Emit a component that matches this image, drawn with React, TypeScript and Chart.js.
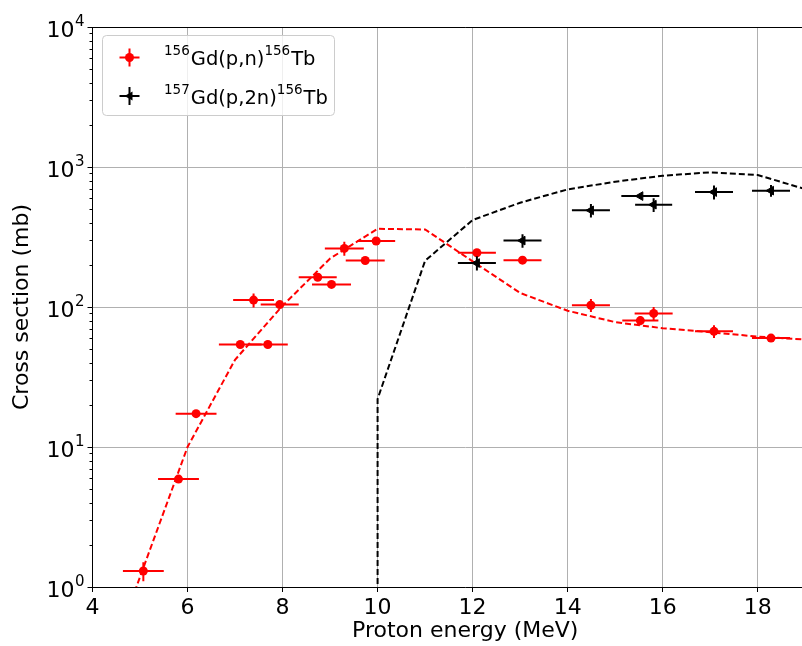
import React, { useEffect, useRef } from 'react';
import { Chart, registerables } from 'chart.js';

Chart.register(...registerables);

// 156Gd(p,n)156Tb measured
const pnEnergy = [5.07, 5.81, 6.18, 7.11, 7.69, 7.39, 7.94, 8.74, 9.03, 9.30, 9.74, 9.97, 12.09, 13.05, 14.49, 15.53, 15.81, 17.08, 18.28];
const pnEnergyErr = [0.43, 0.43, 0.43, 0.45, 0.42, 0.43, 0.40, 0.40, 0.41, 0.41, 0.41, 0.40, 0.40, 0.40, 0.40, 0.38, 0.40, 0.40, 0.40];
const pnXs = [1.3, 5.9, 17.3, 54, 54, 112, 104, 163, 145, 262, 215, 296, 244, 216, 103, 80, 90, 67, 60];
const pnXsErr = [0.2, 0.3, 1.0, 3, 3, 13, 5, 8, 6, 30, 8, 12, 12, 12, 11, 6, 10, 7, 3];

// 157Gd(p,2n)156Tb measured
const p2nEnergy = [12.09, 13.05, 14.49, 15.53, 15.81, 17.08, 18.28];
const p2nEnergyErr = [0.40, 0.40, 0.40, 0.40, 0.39, 0.40, 0.40];
const p2nXs = [206, 298, 490, 620, 538, 662, 678];
const p2nXsErr = [24, 33, 55, 20, 60, 75, 65];

// calculated excitation functions (dashed)
const pnCalcEnergy = [4.5, 5, 6, 7, 8, 9, 10, 11, 12, 13, 14, 15, 16, 17, 18, 19];
const pnCalcXs = [0.4, 1.18, 10, 42, 102, 222, 362, 358, 212, 126, 94, 78, 70.5, 66, 61.5, 58.5];
const p2nCalcEnergy = [10, 10, 11, 12, 13, 14, 15, 16, 17, 18, 19];
const p2nCalcXs = [0.001, 22, 214, 418, 556, 692, 785, 866, 916, 877, 695];

// axes
const xTicks = [4, 6, 8, 10, 12, 14, 16, 18];
const yMajorTicks = [1, 10, 100, 1000, 10000];
const yExponents = ['0', '1', '2', '3', '4'];
const yMinorFactors = [2, 3, 4, 5, 6, 7, 8, 9];
const xTitle = 'Proton energy (MeV)';
const yTitle = 'Cross section (mb)';

// legend texts: [superscript, main, superscript, main]
const legendEntries = [
  ['156', 'Gd(p,n)', '156', 'Tb'],
  ['157', 'Gd(p,2n)', '156', 'Tb'],
];

const FONT = 'DejaVu Sans';
const RED = '#ff0000';
const BLACK = '#000000';

function drawRich(ctx: CanvasRenderingContext2D, x: number, baseline: number, parts: string[], mainSize: number, supSize: number, rise: number) {
  let cx = x;
  parts.forEach((t, i) => {
    const sup = i % 2 === 0;
    ctx.font = `${sup ? supSize : mainSize}px "${FONT}"`;
    ctx.textAlign = 'left';
    ctx.textBaseline = 'alphabetic';
    ctx.fillText(t, cx, sup ? baseline - rise : baseline);
    cx += ctx.measureText(t).width + (sup ? 1 : 0);
  });
}

const errorBarPlugin = {
  id: 'errorBars',
  beforeDatasetDraw(chart: any, args: any) {
    const ds = chart.data.datasets[args.index];
    if (!ds.errX) return;
    const { ctx, chartArea } = chart;
    const xs = chart.scales.x;
    const ys = chart.scales.y;
    ctx.save();
    ctx.beginPath();
    ctx.rect(chartArea.left, chartArea.top, chartArea.right - chartArea.left, chartArea.bottom - chartArea.top);
    ctx.clip();
    ctx.strokeStyle = ds.errColor;
    ctx.lineWidth = 2;
    ds.data.forEach((p: any, i: number) => {
      const px = xs.getPixelForValue(p.x);
      const py = ys.getPixelForValue(p.y);
      const x0 = xs.getPixelForValue(p.x - ds.errX[i]);
      const x1 = xs.getPixelForValue(p.x + ds.errX[i]);
      const y0 = ys.getPixelForValue(p.y - ds.errY[i]);
      const y1 = ys.getPixelForValue(p.y + ds.errY[i]);
      ctx.beginPath();
      ctx.moveTo(x0, py);
      ctx.lineTo(x1, py);
      ctx.moveTo(px, y0);
      ctx.lineTo(px, y1);
      ctx.stroke();
    });
    ctx.restore();
  },
};

const decorPlugin = {
  id: 'decor',
  afterDraw(chart: any) {
    const { ctx, chartArea } = chart;
    const ys = chart.scales.y;
    ctx.save();
    // top spine
    ctx.strokeStyle = BLACK;
    ctx.lineWidth = 1;
    ctx.beginPath();
    ctx.moveTo(chartArea.left, chartArea.top + 0.5);
    ctx.lineTo(chartArea.right, chartArea.top + 0.5);
    ctx.stroke();
    // y tick marks
    const ax = Math.round(chartArea.left) - 0.5;
    yMajorTicks.forEach((v, i) => {
      const py = Math.round(ys.getPixelForValue(v)) + 0.5;
      ctx.beginPath();
      ctx.moveTo(ax, py);
      ctx.lineTo(ax - 5, py);
      ctx.stroke();
      if (i < yMajorTicks.length - 1) {
        yMinorFactors.forEach((f) => {
          const my = Math.round(ys.getPixelForValue(v * f)) + 0.5;
          ctx.beginPath();
          ctx.moveTo(ax, my);
          ctx.lineTo(ax - 3, my);
          ctx.stroke();
        });
      }
      // label 10^n
      ctx.fillStyle = BLACK;
      ctx.textBaseline = 'alphabetic';
      ctx.font = `15px "${FONT}"`;
      const ew = ctx.measureText(yExponents[i]).width;
      ctx.textAlign = 'right';
      const right = ax - 8;
      ctx.fillText(yExponents[i], right, py - 1.5);
      ctx.font = `22px "${FONT}"`;
      ctx.fillText('10', right - ew - 0.5, py + 9);
    });
    // legend
    const lx = 102.5, ly = 35.5, lw = 232, lh = 80;
    ctx.beginPath();
    ctx.roundRect(lx, ly, lw, lh, 4);
    ctx.fillStyle = 'rgba(255,255,255,0.8)';
    ctx.fill();
    ctx.strokeStyle = '#cccccc';
    ctx.lineWidth = 1;
    ctx.stroke();
    const rows = [57.5, 96];
    const colors = [RED, BLACK];
    rows.forEach((ry, i) => {
      const mx = 129.5;
      ctx.strokeStyle = colors[i];
      ctx.fillStyle = colors[i];
      ctx.lineWidth = 2;
      ctx.beginPath();
      ctx.moveTo(mx - 10, ry);
      ctx.lineTo(mx + 10, ry);
      ctx.moveTo(mx, ry - 9);
      ctx.lineTo(mx, ry + 9);
      ctx.stroke();
      ctx.beginPath();
      if (i === 0) {
        ctx.arc(mx, ry, 4.5, 0, Math.PI * 2);
      } else {
        ctx.moveTo(mx - 5, ry);
        ctx.lineTo(mx + 3, ry - 4.5);
        ctx.lineTo(mx + 3, ry + 4.5);
        ctx.closePath();
      }
      ctx.fill();
      ctx.fillStyle = BLACK;
      drawRich(ctx, 164, ry + 7.5, legendEntries[i], 19.5, 13.5, 10);
    });
    ctx.restore();
  },
};

export default function App() {
  const ref = useRef<HTMLCanvasElement | null>(null);
  useEffect(() => {
    if (!ref.current) return;
    const chart = new Chart(ref.current, {
      type: 'scatter',
      data: {
        datasets: [
          {
            label: 'pn',
            data: pnEnergy.map((e, i) => ({ x: e, y: pnXs[i] })),
            showLine: false,
            pointRadius: 4.5,
            pointBackgroundColor: RED,
            pointBorderColor: RED,
            pointBorderWidth: 0,
            errX: pnEnergyErr,
            errY: pnXsErr,
            errColor: RED,
            order: 1,
          } as any,
          {
            label: 'p2n',
            data: p2nEnergy.map((e, i) => ({ x: e, y: p2nXs[i] })),
            showLine: false,
            pointStyle: 'triangle',
            rotation: -90,
            pointRadius: 5,
            pointBackgroundColor: BLACK,
            pointBorderColor: BLACK,
            pointBorderWidth: 1,
            errX: p2nEnergyErr,
            errY: p2nXsErr,
            errColor: BLACK,
            order: 0,
          } as any,
          {
            label: 'pn calc',
            data: pnCalcEnergy.map((e, i) => ({ x: e, y: pnCalcXs[i] })),
            showLine: true,
            pointRadius: 0,
            borderColor: RED,
            borderWidth: 2,
            borderDash: [6, 3],
            tension: 0,
            order: 3,
          },
          {
            label: 'p2n calc',
            data: p2nCalcEnergy.map((e, i) => ({ x: e, y: p2nCalcXs[i] })),
            showLine: true,
            pointRadius: 0,
            borderColor: BLACK,
            borderWidth: 2,
            borderDash: [6, 3],
            tension: 0,
            order: 2,
          },
        ],
      },
      options: {
        animation: false,
        responsive: false,
        maintainAspectRatio: false,
        layout: { padding: { top: 27, left: 0, right: 0, bottom: 0 } },
        plugins: { legend: { display: false }, tooltip: { enabled: false } },
        scales: {
          x: {
            type: 'linear',
            min: 4,
            max: 19.69,
            afterBuildTicks: (s: any) => {
              s.ticks = xTicks.map((v) => ({ value: v }));
            },
            afterFit: (s: any) => {
              s.height = 59;
            },
            grid: { color: '#b0b0b0', lineWidth: 1, drawTicks: true, tickLength: 5, tickColor: BLACK },
            border: { color: BLACK, width: 1 },
            ticks: { font: { family: FONT, size: 22 }, color: BLACK, padding: 3, maxRotation: 0, autoSkip: false },
            title: { display: true, text: xTitle, font: { family: FONT, size: 22 }, color: BLACK, padding: { top: 0, bottom: 2 } },
          },
          y: {
            type: 'logarithmic',
            min: 1,
            max: 10000,
            afterBuildTicks: (s: any) => {
              s.ticks = yMajorTicks.map((v) => ({ value: v }));
            },
            afterFit: (s: any) => {
              s.width = 92.5;
            },
            grid: { color: '#b0b0b0', lineWidth: 1, drawTicks: false },
            border: { color: BLACK, width: 1 },
            ticks: { display: false },
            title: { display: true, text: yTitle, font: { family: FONT, size: 22 }, color: BLACK, padding: { top: 9, bottom: 0 } },
          },
        },
      },
      plugins: [errorBarPlugin, decorPlugin],
    });
    return () => chart.destroy();
  }, []);
  return (
    <div style={{ position: 'absolute', left: 0, top: 0, width: 802, height: 646, overflow: 'hidden', background: '#fff' }}>
      <canvas ref={ref} width={844} height={646} style={{ display: 'block' }} />
    </div>
  );
}
